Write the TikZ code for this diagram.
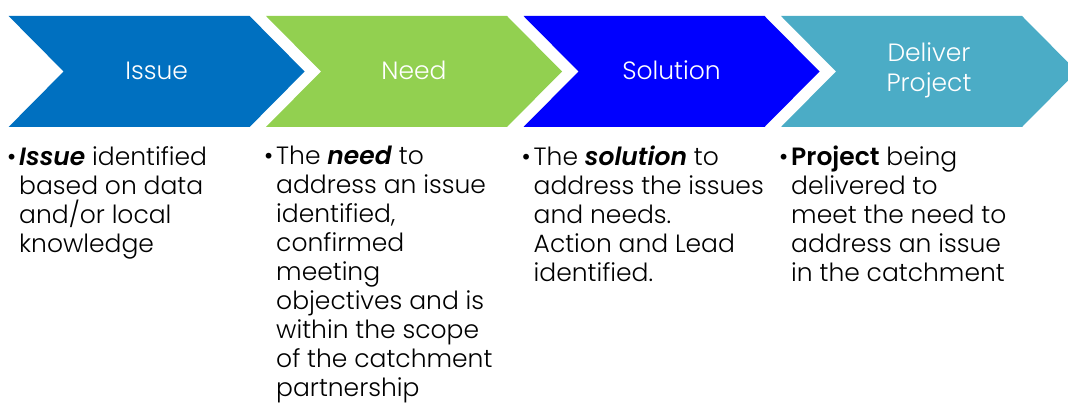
\documentclass[tikz,border=0pt]{standalone}
\usepackage{fontspec}
\setmainfont{Poppins}[UprightFont=* Light, BoldFont=* SemiBold, BoldItalicFont=* SemiBold Italic]

\definecolor{issueblue}{HTML}{0070C0}
\definecolor{needgreen}{HTML}{92D050}
\definecolor{solblue}{HTML}{0000FF}
\definecolor{delteal}{HTML}{4BACC6}

\tikzset{
    steplabel/.style={text=white, align=center, inner sep=0pt, font=\fontsize{25}{30}\selectfont},
    stepbody/.style={anchor=north west, align=left, inner sep=0pt, font=\fontsize{25}{29}\selectfont}
}

\begin{document}
\begin{tikzpicture}[x=1pt, y=-1pt]
        \useasboundingbox (0,0) rectangle (1068,403);

        % Chevrons
        \foreach \name/\x/\col/\lbl in {issue/8.6/issueblue/Issue, need/266/needgreen/Need, solution/523.5/solblue/Solution, deliver/781/delteal/{Deliver\\Project}} {
            \fill[\col] (\x, 16) -- ++(241, 0) -- ++(55, 55.5) -- ++(-55, 55.5) -- ++(-241, 0) -- ++(55, -55.5) -- cycle;
            \node[steplabel] (\name) at (\x+148, 70.5) {\lbl};
        }

        % Bullet texts
        \node[stepbody] (issuetxt) at (19, 146) {\llap{\textbullet\hspace{3pt}}\textbf{\textit{Issue}} identified\\based on data\\and/or local\\knowledge};
        \node[stepbody] (needtxt) at (276, 146) {\llap{\textbullet\hspace{3pt}}The \textbf{\textit{need}} to\\address an issue\\identified,\\confirmed\\meeting\\objectives and is\\within the scope\\of the catchment\\partnership};
        \node[stepbody] (solutiontxt) at (533.5, 146) {\llap{\textbullet\hspace{3pt}}The \textbf{\textit{solution}} to\\address the issues\\and needs.\\Action and Lead\\identified.};
        \node[stepbody] (delivertxt) at (791, 146) {\llap{\textbullet\hspace{3pt}}\textbf{Project} being\\delivered to\\meet the need to\\address an issue\\in the catchment};
    \end{tikzpicture}
\end{document}
